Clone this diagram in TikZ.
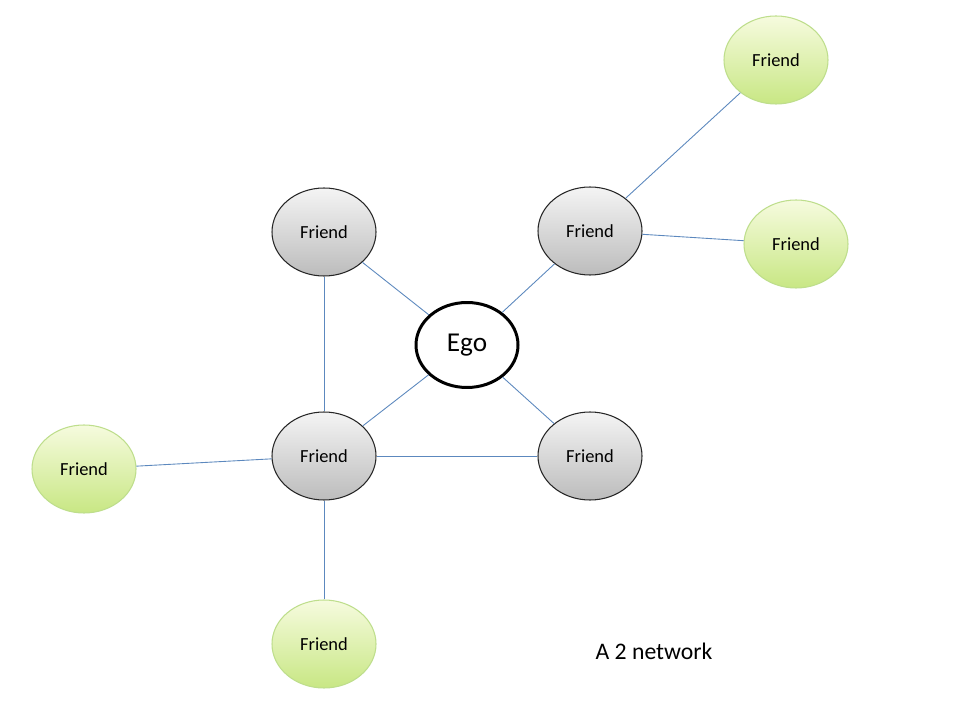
\documentclass[tikz,border=0pt]{standalone}
\usepackage{fontspec}
\setmainfont{Carlito}
\usetikzlibrary{shapes.geometric,positioning}
\definecolor{linkblue}{RGB}{92,136,190}
\definecolor{graytop}{RGB}{244,244,244}
\definecolor{graybot}{RGB}{188,188,188}
\definecolor{greentop}{RGB}{246,251,222}
\definecolor{greenbot}{RGB}{200,231,132}
\definecolor{greenline}{RGB}{190,222,140}
\tikzset{
  friendgray/.style={ellipse,draw=black!85,line width=0.6pt,top color=graytop,
        bottom color=graybot,minimum width=2.08cm,minimum height=1.76cm,
        inner sep=0pt,font=\fontsize{10.5}{12}\selectfont},
  friendgreen/.style={ellipse,draw=greenline,line width=0.6pt,top color=greentop,
        bottom color=greenbot,minimum width=2.08cm,minimum height=1.76cm,
        inner sep=0pt,font=\fontsize{10.5}{12}\selectfont},
  egonode/.style={ellipse,draw=black,line width=1.7pt,fill=white,
        minimum width=2.04cm,minimum height=1.70cm,inner sep=0pt,
        font=\fontsize{15.5}{18}\selectfont},
  link/.style={draw=linkblue,line width=0.5pt}
}
\begin{document}
\begin{tikzpicture}
  \useasboundingbox[fill=white] (0,0) rectangle (19.2,14.4);
  \node[egonode] (ego) at (9.34,7.5) {Ego};
  % first ring
  \node[friendgray] (ftl) at (6.48,9.76) {Friend};
  \node[friendgray] (ftr) at (11.8,9.78) {Friend};
  \node[friendgray] (fbl) at (6.48,5.28) {Friend};
  \node[friendgray] (fbr) at (11.8,5.28) {Friend};
  % second ring
  \node[friendgreen] (gtop) at (15.52,13.2) {Friend};
  \node[friendgreen] (gright) at (15.92,9.52) {Friend};
  \node[friendgreen] (gleft) at (1.68,5.02) {Friend};
  \node[friendgreen] (gbot) at (6.48,1.52) {Friend};
  \node[font=\fontsize{13.5}{16}\selectfont] (title) at (13.08,1.38) {A 2 network};
  \draw[link] (ego) -- (ftl);
  \draw[link] (ego) -- (ftr);
  \draw[link] (ego) -- (fbl);
  \draw[link] (ego) -- (fbr);
  \draw[link] (ftl) -- (fbl);
  \draw[link] (fbl) -- (fbr);
  \draw[link] (fbl) -- (gleft);
  \draw[link] (fbl) -- (gbot);
  \draw[link] (ftr) -- (gtop);
  \draw[link] (ftr) -- (gright);
\end{tikzpicture}
\end{document}
